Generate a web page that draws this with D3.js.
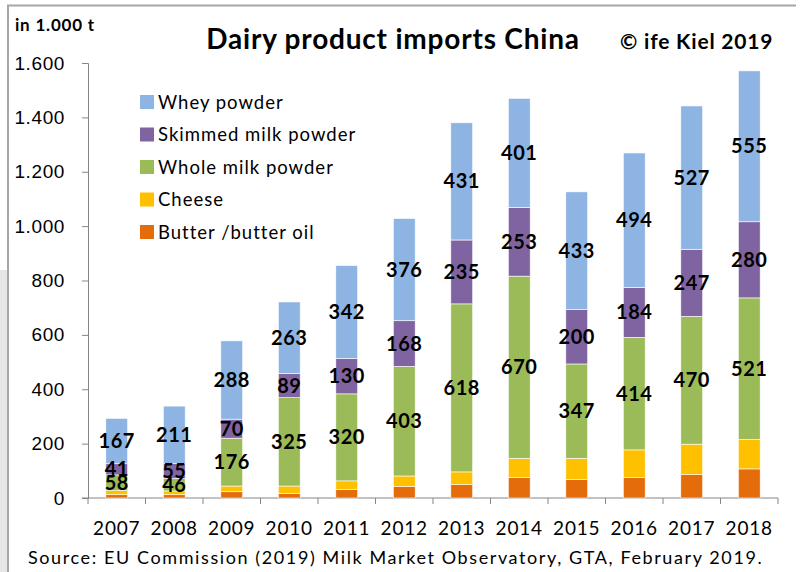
<!DOCTYPE html>
<html>
<head>
<meta charset="utf-8">
<script src="https://cdn.jsdelivr.net/npm/d3@7"></script>
<style>
  body { margin: 0; background: #fff; }
  svg { font-family: Lato, "Open Sans", sans-serif; }
</style>
</head>
<body>
<svg width="800" height="572"></svg>
<script>
// values in 1.000 t
var years = ["2007","2008","2009","2010","2011","2012","2013","2014","2015","2016","2017","2018"];
var butter = [12, 12, 23, 16, 31, 42, 49, 75, 68, 75, 86, 107];
var cheese = [15, 14, 21, 28, 32, 39, 47, 71, 78, 102, 112, 108];
var wmp    = [58, 46, 176, 325, 320, 403, 618, 670, 347, 414, 470, 521];
var smp    = [41, 55, 70, 89, 130, 168, 235, 253, 200, 184, 247, 280];
var whey   = [167, 211, 288, 263, 342, 376, 431, 401, 433, 494, 527, 555];
var yTicks = [0, 200, 400, 600, 800, 1000, 1200, 1400, 1600];

var seriesNames = ["Butter /butter oil", "Cheese", "Whole milk powder", "Skimmed milk powder", "Whey powder"];
var seriesColors = ["#E46C0A", "#FFC000", "#9BBB59", "#8064A2", "#8DB4E2"];
var labelled = [false, false, true, true, true];

var svg = d3.select("svg");

// frame
svg.append("rect").attr("x", 0).attr("y", 270).attr("width", 8).attr("height", 302).attr("fill", "#e6e6e6");
svg.append("path").attr("d", "M8,572V5.5H796").attr("fill", "none").attr("stroke", "#a6a6a6").attr("stroke-width", 2);

var x = d3.scaleBand().domain(years).range([88, 778]).paddingInner(0.62).paddingOuter(0.31);
var y = d3.scaleLinear().domain([0, 1600]).range([498, 63]);

var rows = years.map(function(yr, i) {
  return { year: yr, b: butter[i], c: cheese[i], w: wmp[i], s: smp[i], wh: whey[i] };
});
var stack = d3.stack().keys(["b", "c", "w", "s", "wh"])(rows);

// y axis
var yAxis = svg.append("g").attr("transform", "translate(88,0)")
  .call(d3.axisLeft(y).tickValues(yTicks).tickSize(6).tickPadding(17)
    .tickFormat(function(d) { return d3.format(",")(d).replace(",", "."); }));
yAxis.selectAll("text").attr("font-size", 19).attr("letter-spacing", 0.6).attr("fill", "#000");
yAxis.selectAll("line, path").attr("stroke", "#868686");

// x axis with ticks at band edges
var xg = svg.append("g");
xg.append("line").attr("x1", 82).attr("x2", 778).attr("y1", y(0)).attr("y2", y(0)).attr("stroke", "#868686");
var step = x.step();
d3.range(13).forEach(function(k) {
  var xx = 88 + k * step;
  xg.append("line").attr("x1", xx).attr("x2", xx).attr("y1", y(0)).attr("y2", y(0) + 6).attr("stroke", "#868686");
});
xg.selectAll("text.yr").data(years).enter().append("text")
  .attr("class", "yr")
  .attr("x", function(d) { return x(d) + x.bandwidth() / 2; })
  .attr("y", 535)
  .attr("text-anchor", "middle")
  .attr("font-size", 19).attr("letter-spacing", 0.8)
  .text(function(d) { return d; });

// bars
stack.forEach(function(layer, li) {
  var g = svg.append("g");
  g.selectAll("rect").data(layer).enter().append("rect")
    .attr("x", function(d) { return x(d.data.year); })
    .attr("width", x.bandwidth())
    .attr("y", function(d) { return y(d[1]); })
    .attr("height", function(d) { return y(d[0]) - y(d[1]); })
    .attr("fill", seriesColors[li])
    .attr("stroke", "#fff").attr("stroke-width", 0.6);
});

// data labels
stack.forEach(function(layer, li) {
  if (!labelled[li]) return;
  svg.append("g").selectAll("text").data(layer).enter().append("text")
    .attr("x", function(d) { return x(d.data.year) + x.bandwidth() / 2; })
    .attr("y", function(d) { return (y(d[0]) + y(d[1])) / 2 + 7; })
    .attr("text-anchor", "middle")
    .attr("font-size", 20).attr("font-weight", "bold").attr("letter-spacing", 0.5)
    .text(function(d) { return d[1] - d[0]; });
});

// legend
var legend = svg.append("g");
var order = [4, 3, 2, 1, 0];
order.forEach(function(si, r) {
  var cy = 102 + r * 32.5;
  legend.append("rect").attr("x", 140).attr("y", cy - 7).attr("width", 14).attr("height", 14).attr("fill", seriesColors[si]);
  legend.append("text").attr("x", 158).attr("y", cy + 6.5).attr("font-size", 18.5).attr("letter-spacing", 1).text(seriesNames[si]);
});

// titles
svg.append("text").attr("x", 15).attr("y", 31).attr("font-size", 17).attr("font-weight", "bold").attr("letter-spacing", 0.8).text("in 1.000 t");
svg.append("text").attr("x", 393).attr("y", 49).attr("text-anchor", "middle").attr("font-size", 28).attr("font-weight", "bold").attr("letter-spacing", 0.8).text("Dairy product imports China");
svg.append("text").attr("x", 620).attr("y", 49).attr("font-size", 21).attr("font-weight", "bold").attr("letter-spacing", 0.8).text("© ife Kiel 2019");
svg.append("text").attr("x", 28).attr("y", 564).attr("font-size", 18).attr("letter-spacing", 1.6).text("Source: EU Commission  (2019) Milk Market Observatory, GTA, February 2019.");
</script>
</body>
</html>
